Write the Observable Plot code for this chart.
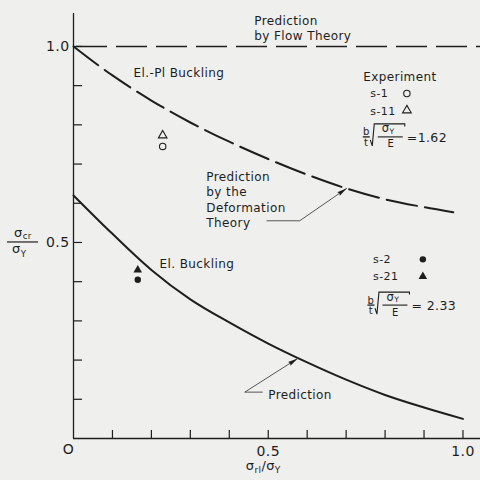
<!DOCTYPE html>
<html>
<head>
<meta charset="utf-8">
<script src="https://cdn.jsdelivr.net/npm/d3@7"></script>
<script src="https://cdn.jsdelivr.net/npm/@observablehq/plot@0.6"></script>
<style>
  html, body { margin: 0; padding: 0; background: #efefed; }
  #chart { width: 480px; height: 480px; }
</style>
</head>
<body>
<div id="chart"></div>
<script>
const INK = "#1e1e1e";
const FONT = "'DejaVu Sans', sans-serif";

// Elastic-plastic buckling predicted by the deformation theory (dashed curve)
const deformX = [0, 0.1, 0.2, 0.3, 0.4, 0.5, 0.6, 0.7, 0.8, 0.9, 0.975];
const deformY = [1.0, 0.926, 0.862, 0.806, 0.757, 0.713, 0.673, 0.638, 0.61, 0.59, 0.577];

// Elastic buckling prediction (solid curve)
const elasticX = [0, 0.1, 0.2, 0.3, 0.4, 0.5, 0.6, 0.7, 0.8, 0.9, 1.0];
const elasticY = [0.62, 0.522, 0.43, 0.355, 0.296, 0.242, 0.194, 0.15, 0.111, 0.079, 0.05];

// Prediction by the flow theory
const flowLevel = [1.0];

// Test specimens
const specimenNames  = ["s-1", "s-11", "s-2", "s-21"];
const specimenX      = [0.229, 0.229, 0.165, 0.165];
const specimenY      = [0.745, 0.773, 0.405, 0.430];
const specimenSymbol = ["circle", "triangle", "circle", "triangle"];
const specimenFilled = [false, false, true, true];

// Key entries for the specimens (label corner and symbol position)
const keyLabelX  = [0.762, 0.762, 0.769, 0.769];
const keyLabelY  = [0.890, 0.844, 0.467, 0.423];
const keySymbolX = [0.856, 0.856, 0.897, 0.897];
const keySymbolY = [0.880, 0.837, 0.457, 0.413];

// Width-thickness parameters of the two series, with where they are written
const slenderness  = ["=1.62", "= 2.33"];
const slenderX     = [0.744, 0.756];
const slenderY     = [0.768, 0.339];

// Axis ticks
const xTicks = [0.1, 0.2, 0.3, 0.4, 0.5, 0.6, 0.7, 0.8, 0.9, 1.0];
const yTicks = [0.1, 0.2, 0.3, 0.4, 0.5, 0.6, 0.7, 0.8, 0.9, 1.0];
const xTickLabels = [0.5, 1.0];
const yTickLabels = [0.5, 1.0];

// Annotations
const noteText = ["Prediction\nby Flow Theory", "El.-Pl Buckling", "Experiment",
                  "Prediction\nby the\nDeformation\nTheory", "El. Buckling", "Prediction"];
const noteX = [0.464, 0.154, 0.744, 0.341, 0.221, 0.500];
const noteY = [1.084, 0.949, 0.941, 0.686, 0.464, 0.128];

// Leader arrows pointing at the two curves
const arrowDeformX = [0.497, 0.582, 0.703];
const arrowDeformY = [0.554, 0.554, 0.637];
const arrowElasticX = [0.487, 0.441, 0.577];
const arrowElasticY = [0.117, 0.117, 0.203];

const deform = deformX.map((x, i) => ({x, y: deformY[i]}));
const elastic = elasticX.map((x, i) => ({x, y: elasticY[i]}));
const specimens = specimenNames.map((name, i) => ({
  name, x: specimenX[i], y: specimenY[i], symbol: specimenSymbol[i], filled: specimenFilled[i],
  kx: keyLabelX[i], ky: keyLabelY[i], sx: keySymbolX[i], sy: keySymbolY[i]
}));
const notes = noteText.map((text, i) => ({text, x: noteX[i], y: noteY[i]}));

// Text with a subscript, e.g. σ with "cr"
function subText(g, x, y, base, sub, size, anchor = "start", drop = 0.28) {
  const t = g.append("text").attr("x", x).attr("y", y).attr("text-anchor", anchor)
    .attr("font-size", size).attr("fill", INK).attr("stroke", "none");
  t.append("tspan").text(base);
  t.append("tspan").attr("font-size", size * 0.66).attr("dy", size * drop).text(sub);
  return t;
}

// Leader line with a slim filled arrowhead at its last point
function leader(xs, ys) {
  return (index, {x, y}) => {
    const pts = xs.map((v, i) => [x(v), y(ys[i])]);
    const g = d3.create("svg:g");
    g.append("path").attr("fill", "none").attr("stroke", "#444").attr("stroke-width", 0.9)
      .attr("d", d3.line()(pts));
    const [x1, y1] = pts[pts.length - 2], [x2, y2] = pts[pts.length - 1];
    const a = Math.atan2(y2 - y1, x2 - x1) * 180 / Math.PI;
    g.append("path").attr("fill", INK)
      .attr("transform", `translate(${x2},${y2}) rotate(${a})`)
      .attr("d", "M0,0L-10,-2.2L-9,0L-10,2.2Z");
    return g.node();
  };
}

// b/t·√(σY/E) = value, placed by the b/t fraction bar
function slenderMark(i) {
  return (index, {x, y}) => {
    const X = x(slenderX[i]), Y = y(slenderY[i]);
    const g = d3.create("svg:g").attr("font-family", FONT).attr("stroke", INK).attr("text-anchor", "start");
    g.append("text").attr("x", X + 3.5).attr("y", Y - 1.5).attr("text-anchor", "middle")
      .attr("font-size", 10).attr("fill", INK).attr("stroke", "none").text("b");
    g.append("text").attr("x", X + 3.5).attr("y", Y + 9).attr("text-anchor", "middle")
      .attr("font-size", 10).attr("fill", INK).attr("stroke", "none").text("t");
    g.append("line").attr("x1", X).attr("x2", X + 7).attr("y1", Y).attr("y2", Y).attr("stroke-width", 1.3);
    g.append("path").attr("fill", "none").attr("stroke-width", 1.1)
      .attr("d", `M${X + 7.5},${Y + 3}L${X + 9.5},${Y + 9}L${X + 11.5},${Y - 13}H${X + 42}v2.5`);
    subText(g, X + 19, Y - 4.5, "σ", "Y", 11.5, "start", 0.12);
    g.append("line").attr("x1", X + 15).attr("x2", X + 40).attr("y1", Y).attr("y2", Y).attr("stroke-width", 1.1);
    g.append("text").attr("x", X + 28).attr("y", Y + 10.5).attr("text-anchor", "middle")
      .attr("font-size", 10).attr("fill", INK).attr("stroke", "none").text("E");
    g.append("text").attr("x", X + 44).attr("y", Y + 5).attr("font-size", 12.5)
      .attr("fill", INK).attr("stroke", "none").text(slenderness[i]);
    return g.node();
  };
}

// Axis titles
function axisTitles(index, {x, y}, values, {height, marginBottom, marginLeft}) {
  const g = d3.create("svg:g").attr("font-family", FONT).attr("text-anchor", "start");
  const cx = marginLeft - 51, cy = y(0.5);
  subText(g, cx - 8, cy - 5, "σ", "cr", 13, "start", 0.12);
  g.append("line").attr("x1", cx - 15).attr("x2", cx + 16).attr("y1", cy).attr("y2", cy)
    .attr("stroke", INK).attr("stroke-width", 1.2);
  subText(g, cx - 10, cy + 11, "σ", "Y", 13);
  const xt = g.append("text").attr("x", x(0.5) - 22).attr("y", height - marginBottom + 32)
    .attr("font-size", 13).attr("fill", INK);
  xt.append("tspan").text("σ");
  xt.append("tspan").attr("font-size", 9).attr("dy", 3).text("rl");
  xt.append("tspan").attr("dy", -3).text("/σ");
  xt.append("tspan").attr("font-size", 9).attr("dy", 3).text("Y");
  return g.node();
}

const chart = Plot.plot({
  width: 480,
  height: 480,
  marginLeft: 73,
  marginRight: 0,
  marginTop: 13,
  marginBottom: 42,
  x: {domain: [0, 1.045]},
  y: {domain: [0, 1.084]},
  style: {background: "transparent", fontFamily: FONT, color: INK, fontSize: "12px", letterSpacing: "0.4px"},
  marks: [
    // frame axes
    Plot.ruleX([0], {stroke: INK, strokeWidth: 1.3}),
    Plot.ruleY([0], {stroke: INK, strokeWidth: 1.3}),
    Plot.axisY({ticks: yTicks, tickSize: -9, tickFormat: () => "", label: null, strokeWidth: 1.2}),
    Plot.axisX({ticks: xTicks, tickSize: -8, tickFormat: () => "", label: null, strokeWidth: 1.2}),
    Plot.axisY({ticks: yTickLabels, tickSize: 0, tickPadding: 4, tickFormat: d3.format(".1f"), label: null, fontSize: 14}),
    Plot.axisX({ticks: xTickLabels, tickSize: 0, tickPadding: 8, tickFormat: d3.format(".1f"), label: null, fontSize: 14}),
    Plot.text(["O"], {x: 0, y: 0, dx: -5, dy: 11, fontSize: 14}),
    axisTitles,

    // predictions
    Plot.ruleY(flowLevel, {stroke: INK, strokeWidth: 1.4, strokeDasharray: "31,9", strokeDashoffset: -3}),
    Plot.line(deform, {x: "x", y: "y", curve: "monotone-x", stroke: INK, strokeWidth: 2, strokeDasharray: "31,8"}),
    Plot.line(elastic, {x: "x", y: "y", curve: "monotone-x", stroke: INK, strokeWidth: 2}),

    // test results
    Plot.dot(specimens.filter(d => !d.filled), {x: "x", y: "y", symbol: "symbol", r: 3.2, stroke: INK, strokeWidth: 1.1, fill: "none"}),
    Plot.dot(specimens.filter(d => d.filled), {x: "x", y: "y", symbol: "symbol", r: 3.2, fill: INK, stroke: "none"}),

    // key for the specimens
    Plot.text(specimens, {x: "kx", y: "ky", text: "name", textAnchor: "start", lineAnchor: "top", fontSize: 11}),
    Plot.dot(specimens.filter(d => !d.filled), {x: "sx", y: "sy", symbol: "symbol", r: 3.2, stroke: INK, strokeWidth: 1.1, fill: "none"}),
    Plot.dot(specimens.filter(d => d.filled), {x: "sx", y: "sy", symbol: "symbol", r: 3.2, fill: INK, stroke: "none"}),
    slenderMark(0),
    slenderMark(1),

    // annotations
    Plot.text(notes, {x: "x", y: "y", text: "text", textAnchor: "start", lineAnchor: "top", lineHeight: 1.3, fontSize: 12}),
    leader(arrowDeformX, arrowDeformY),
    leader(arrowElasticX, arrowElasticY)
  ]
});

document.getElementById("chart").append(chart);
</script>
</body>
</html>
